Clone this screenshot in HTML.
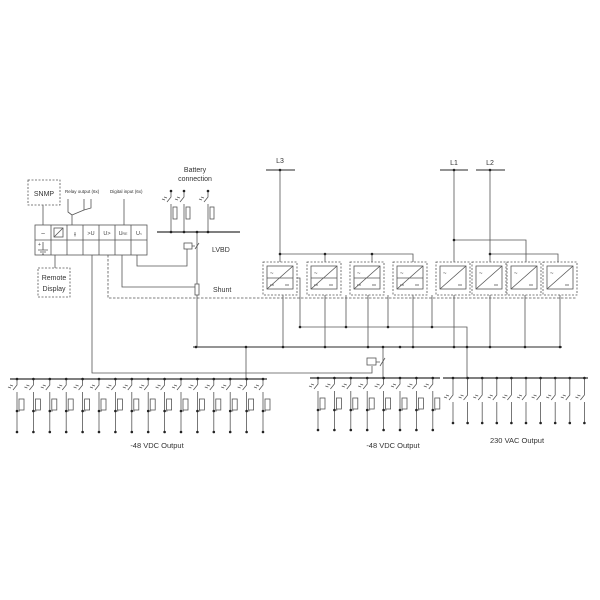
<!DOCTYPE html>
<html><head><meta charset="utf-8"><style>
html,body{margin:0;padding:0;background:#fff;}
svg{display:block;font-family:"Liberation Sans",sans-serif;}
</style></head><body>
<svg id="s" width="600" height="600" viewBox="0 0 600 600" xmlns="http://www.w3.org/2000/svg" stroke="#555" stroke-width="0.8" fill="none">
<!-- SNMP -->
<rect x="28" y="180" width="32" height="25" stroke-dasharray="2,1.5"/>
<text x="44" y="196" font-size="7" fill="#333" stroke="none" text-anchor="middle">SNMP</text>
<line x1="43" y1="205" x2="43" y2="225"/>
<!-- controller -->
<rect x="35" y="225" width="112" height="30"/>
<line x1="35" y1="240" x2="147" y2="240"/>
<g id="cols"></g>
<text x="43" y="236" font-size="7" fill="#444" stroke="none" text-anchor="middle">~</text>
<rect x="54" y="228" width="9" height="9"/><line x1="54" y1="237" x2="63" y2="228"/>
<text x="75" y="236" font-size="6" fill="#444" stroke="none" text-anchor="middle">⫲</text>
<text x="91" y="235" font-size="5.5" fill="#444" stroke="none" text-anchor="middle">&gt;U</text>
<text x="107" y="235" font-size="5.5" fill="#444" stroke="none" text-anchor="middle">U&gt;</text>
<text x="123" y="235" font-size="5.5" fill="#444" stroke="none" text-anchor="middle">U<tspan font-size="3.5">RE</tspan></text>
<text x="139" y="235" font-size="5.5" fill="#444" stroke="none" text-anchor="middle">U<tspan font-size="3.5">&lt;</tspan></text>
<path d="M43 242 V250 M38 250 H48 M40 252 H46 M42 254 H44"/>
<text x="38" y="246" font-size="5" fill="#444" stroke="none">+</text>
<!-- remote display -->
<line x1="55" y1="255" x2="55" y2="268"/>
<rect x="38" y="268" width="32" height="29" stroke-dasharray="2,1.5"/>
<text x="54" y="280" font-size="7" fill="#333" stroke="none" text-anchor="middle">Remote</text>
<text x="54" y="291" font-size="7" fill="#333" stroke="none" text-anchor="middle">Display</text>
<!-- relay/digital -->
<text x="65" y="193" font-size="4.5" fill="#333" stroke="none">Relay output (6x)</text>
<text x="110" y="193" font-size="4.5" fill="#333" stroke="none">Digital input (6x)</text>
<path d="M68 199 V212 L72 215 V225 M72 215 L84 210 M84 199 V210 M91 199 V208 L84 210"/>
<line x1="124" y1="199" x2="124" y2="225"/>
<!-- battery -->
<text x="195" y="172" font-size="7" fill="#333" stroke="none" text-anchor="middle">Battery</text>
<text x="195" y="181" font-size="7" fill="#333" stroke="none" text-anchor="middle">connection</text>
<line x1="157" y1="232" x2="240" y2="232" stroke-width="1.6"/>
<g id="bat"></g>
<line x1="197" y1="232" x2="197" y2="347"/>
<rect x="184" y="243" width="8" height="6"/>
<path d="M192 246 H195 M195 249 L199 243"/>
<text x="212" y="252" font-size="7" fill="#333" stroke="none">LVBD</text>
<path d="M137 255 V266 H187 V249"/>
<path d="M122 255 V287 H195"/>
<rect x="195" y="284" width="4" height="11" fill="#fff"/>
<text x="213" y="292" font-size="7" fill="#333" stroke="none">Shunt</text>
<path d="M108 255 V298 H577" stroke-dasharray="2.5,1.5"/>
<path d="M92 255 V373 H372 V366"/>
<rect x="367" y="358" width="9" height="7"/>
<path d="M376 362 H380 M380 366 L385 358"/>
<!-- L lines -->
<text x="280" y="163" font-size="7" fill="#333" stroke="none" text-anchor="middle">L3</text>
<line x1="266" y1="170" x2="295" y2="170" stroke-width="1.2"/>
<text x="454" y="165" font-size="7" fill="#333" stroke="none" text-anchor="middle">L1</text>
<line x1="440" y1="170" x2="468" y2="170" stroke-width="1.2"/>
<text x="490" y="165" font-size="7" fill="#333" stroke="none" text-anchor="middle">L2</text>
<line x1="476" y1="170" x2="505" y2="170" stroke-width="1.2"/>
<path d="M280 170 V262 M280 254 H413 V262 M325 254 V262 M372 254 V262"/>
<path d="M454 170 V262 M454 240 H526 V262 M490 170 V262 M490 254 H558 V262"/>
<g id="rect"></g>
<!-- rect outputs -->
<path d="M283 295 V347 M325 295 V347 M368 295 V347 M413 295 V347 M454 295 V347 M490 295 V347 M525 295 V347 M560 295 V347"/>
<path d="M297 278 H300 V327 H467 V347 M346 295 V327 M388 295 V327 M432 295 V327"/>
<line x1="193" y1="347" x2="562" y2="347" stroke-width="1.2"/>
<line x1="246" y1="347" x2="246" y2="379"/>
<line x1="383" y1="347" x2="383" y2="378"/>
<line x1="467" y1="347" x2="467" y2="378"/>
<!-- output buses -->
<line x1="10" y1="379" x2="267" y2="379" stroke-width="1.4"/>
<line x1="310" y1="378" x2="440" y2="378" stroke-width="1.4"/>
<line x1="443" y1="378" x2="588" y2="378" stroke-width="1.4"/>
<g id="outs"></g>
<text x="157" y="448" font-size="7.5" fill="#333" stroke="none" text-anchor="middle">-48 VDC Output</text>
<text x="393" y="448" font-size="7.5" fill="#333" stroke="none" text-anchor="middle">-48 VDC Output</text>
<text x="517" y="443" font-size="7.5" fill="#333" stroke="none" text-anchor="middle">230 VAC Output</text>
<g id="dots" fill="#222" stroke="none"></g>
</svg>
<script>
var NS="http://www.w3.org/2000/svg";
function el(p,t,a){var e=document.createElementNS(NS,t);for(var k in a)e.setAttribute(k,a[k]);document.getElementById(p).appendChild(e);return e;}
function dot(x,y){el("dots","circle",{cx:x,cy:y,r:1.3});}
for(var i=1;i<7;i++){el("cols","line",{x1:35+16*i,y1:225,x2:35+16*i,y2:255});}
function sw(g,x,y){el(g,"path",{d:"M"+x+" "+y+" V"+(y+6)+" L"+(x-4)+" "+(y+11)+" M"+x+" "+(y+13)+" V"+(y+15)+" M"+(x-4)+" "+(y+7)+" L"+(x-7)+" "+(y+6)+" M"+(x-6)+" "+(y+9)+" L"+(x-9)+" "+(y+8)});}
[171,184,208].forEach(function(x){dot(x,191);sw("bat",x,191);el("bat","path",{d:"M"+x+" 206 V232"});el("bat","rect",{x:x+2,y:207,width:4,height:12});dot(x,232);});
dot(197,232);
[263,307,350,393,436,472,507,543].forEach(function(x,i){
 el("rect","rect",{x:x,y:262,width:34,height:33,"stroke-dasharray":"2,1.5"});
 el("rect","rect",{x:x+4,y:266,width:26,height:23});
 el("rect","line",{x1:x+4,y1:289,x2:x+30,y2:266});
 el("rect","text",{x:x+7,y:275,"font-size":6,fill:"#444",stroke:"none"}).textContent="~";
 el("rect","line",{x1:x+22,y1:285,x2:x+26,y2:285});
 if(i<4){el("rect","line",{x1:x+4,y1:278,x2:x+30,y2:278});el("rect","line",{x1:x+7,y1:285,x2:x+11,y2:285});}
});
[[280,254],[325,254],[372,254],[454,240],[490,254],[454,170],[490,170],[280,170],[346,327],[388,327],[432,327],[300,327]].forEach(function(p){dot(p[0],p[1]);});
[196,246,283,325,368,413,454,490,525,560,383,467,400].forEach(function(x){dot(x,347);});
function dcOut(x,yb,ye){dot(x,yb);sw("outs",x,yb);el("outs","path",{d:"M"+x+" "+(yb+15)+" V"+ye+" M"+x+" "+(yb+32)+" H"+(x+3)});el("outs","rect",{x:x+2,y:yb+20,width:5,height:11});dot(x,yb+32);dot(x,ye);}
for(var i=0;i<16;i++)dcOut(17+16.4*i,379,432);
for(var i=0;i<8;i++)dcOut(318+16.4*i,378,430);
for(var i=0;i<10;i++){var x=453+14.6*i;dot(x,378);el("outs","path",{d:"M"+x+" 378 V395 L"+(x-4)+" 400 M"+x+" 402 V423 M"+(x-4)+" 396 L"+(x-7)+" 395 M"+(x-6)+" 398 L"+(x-9)+" 397"});dot(x,423);}
</script>
</body></html>
